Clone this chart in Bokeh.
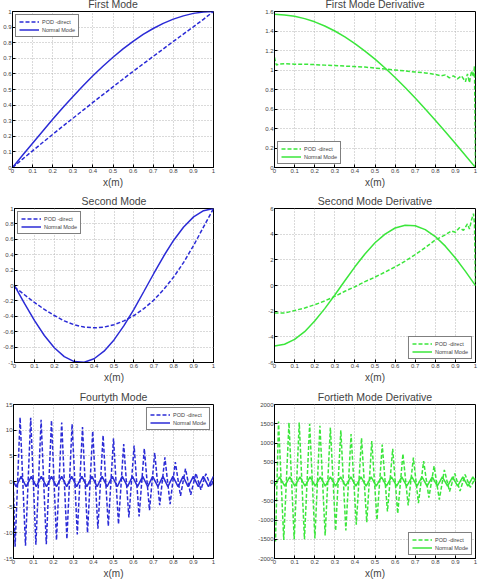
from bokeh.plotting import figure
from bokeh.layouts import column, row
from bokeh.models import Legend, LegendItem, FixedTicker, CustomJSTickFormatter, Range1d
from bokeh.embed import file_html
from bokeh.resources import INLINE

# ---------------- data ----------------
x21 = [0, 0.05, 0.1, 0.15, 0.2, 0.25, 0.3, 0.35, 0.4, 0.45, 0.5,
       0.55, 0.6, 0.65, 0.7, 0.75, 0.8, 0.85, 0.9, 0.95, 1.0]

mode1_pod = [0, 0.054, 0.107, 0.16, 0.212, 0.264, 0.315, 0.366, 0.417, 0.467, 0.517,
             0.567, 0.616, 0.664, 0.712, 0.76, 0.808, 0.855, 0.902, 0.95, 1.0]
mode1_nm = [0, 0.078, 0.156, 0.233, 0.309, 0.383, 0.454, 0.522, 0.588, 0.649, 0.707,
            0.760, 0.809, 0.853, 0.891, 0.924, 0.951, 0.972, 0.988, 0.997, 1.0]

der1_pod_x = [0, 0.005, 0.01, 0.02, 0.05, 0.1, 0.15, 0.2, 0.25, 0.3, 0.35, 0.4, 0.45, 0.5,
              0.55, 0.6, 0.65, 0.7, 0.75, 0.8, 0.83, 0.85, 0.87, 0.89, 0.91, 0.93, 0.95,
              0.96, 0.97, 0.98, 0.99, 0.995, 1.0]
der1_pod_y = [1.13, 1.08, 1.05, 1.06, 1.065, 1.06, 1.06, 1.055, 1.05, 1.045, 1.04, 1.035, 1.03, 1.02,
              1.01, 1.0, 0.99, 0.98, 0.97, 0.955, 0.94, 0.95, 0.92, 0.94, 0.91, 0.94, 0.88,
              0.96, 0.87, 0.99, 0.93, 1.04, 0.0]
der1_nm = [1.571, 1.565, 1.551, 1.527, 1.494, 1.451, 1.4, 1.339, 1.271, 1.194, 1.111,
           1.02, 0.923, 0.82, 0.713, 0.601, 0.485, 0.367, 0.246, 0.123, 0.0]

mode2_pod = [-0.02, -0.12, -0.22, -0.31, -0.39, -0.46, -0.51, -0.54, -0.55, -0.54, -0.51,
             -0.46, -0.39, -0.30, -0.19, -0.05, 0.11, 0.30, 0.52, 0.76, 1.0]
mode2_nm = [0, -0.233, -0.454, -0.649, -0.809, -0.924, -0.988, -0.997, -0.951, -0.853, -0.707,
            -0.522, -0.309, -0.078, 0.156, 0.383, 0.588, 0.760, 0.891, 0.972, 1.0]

der2_pod_x = [0, 0.05, 0.1, 0.15, 0.2, 0.25, 0.3, 0.35, 0.4, 0.45, 0.5, 0.55, 0.6, 0.65,
              0.7, 0.75, 0.8, 0.85, 0.88, 0.9, 0.92, 0.94, 0.96, 0.97, 0.98, 0.99, 0.995, 1.0]
der2_pod_y = [-2.15, -2.15, -1.95, -1.75, -1.5, -1.2, -0.85, -0.45, -0.1, 0.3, 0.65, 1.05, 1.45, 1.9,
              2.4, 2.95, 3.55, 3.95, 4.25, 4.15, 4.5, 4.3, 4.8, 4.4, 5.1, 5.6, 4.8, 0.0]
der2_nm = [-4.712, -4.577, -4.199, -3.599, -2.770, -1.803, -0.737, 0.369, 1.456, 2.461, 3.332,
           4.005, 4.481, 4.698, 4.654, 4.353, 3.812, 3.065, 2.139, 1.100, 0.0]

mode40_pod_x = [0, 0.008, 0.033, 0.06, 0.086, 0.112, 0.138, 0.164, 0.19, 0.215, 0.241, 0.267,
                0.293, 0.319, 0.345, 0.37, 0.396, 0.422, 0.448, 0.474, 0.5, 0.525, 0.551,
                0.577, 0.603, 0.628, 0.654, 0.68, 0.706, 0.731, 0.757, 0.783, 0.809, 0.835,
                0.86, 0.886, 0.912, 0.937, 0.962, 0.988, 1.0]
mode40_pod_y = [-2.0, -12.7, 12.5, -12.5, 12.4, -12.3, 12.0, -12.2, 11.9, -11.4, 11.5, -11.2,
                11.2, -10.3, 10.6, -10.0, 9.8, -9.2, 9.0, -8.7, 8.4, -8.3, 7.3,
                -7.0, 7.0, -6.8, 6.4, -5.6, 5.6, -4.6, 4.7, -4.4, 3.8, -2.8,
                2.5, -2.6, 1.6, -1.6, 1.5, -1.0, 0.5]
mode40_nm_x = [0, 0.013, 0.038, 0.063, 0.089, 0.114, 0.139, 0.165, 0.190, 0.215, 0.241, 0.266,
               0.291, 0.316, 0.342, 0.367, 0.392, 0.418, 0.443, 0.468, 0.494, 0.519, 0.544,
               0.570, 0.595, 0.620, 0.646, 0.671, 0.696, 0.722, 0.747, 0.772, 0.797, 0.823,
               0.848, 0.873, 0.899, 0.924, 0.949, 0.975, 1.0]
mode40_nm_y = [0, -1, 1, -1, 1, -1, 1, -1, 1, -1, 1, -1, 1, -1, 1, -1, 1, -1, 1, -1, 1,
               -1, 1, -1, 1, -1, 1, -1, 1, -1, 1, -1, 1, -1, 1, -1, 1, -1, 1, -1, 1]

der40_pod_x = [0, 0.005, 0.02, 0.046, 0.072, 0.098, 0.123, 0.149, 0.175, 0.201, 0.226, 0.252,
               0.278, 0.304, 0.33, 0.355, 0.381, 0.407, 0.433, 0.459, 0.484, 0.51, 0.536,
               0.562, 0.588, 0.613, 0.639, 0.665, 0.691, 0.716, 0.742, 0.768, 0.794, 0.82,
               0.845, 0.871, 0.897, 0.923, 0.948, 0.974, 1.0]
der40_pod_y = [-1200, -1560, 1560, -1520, 1530, -1500, 1530, -1500, 1500, -1480, 1450, -1400,
               1400, -1280, 1330, -1270, 1230, -1120, 1130, -1060, 1050, -1000, 960,
               -780, 850, -830, 720, -620, 620, -560, 530, -420, 400, -470,
               300, -260, 210, -250, 180, -150, 80]
der40_nm_x = [0, 0.025, 0.051, 0.076, 0.101, 0.127, 0.152, 0.177, 0.203, 0.228, 0.253, 0.278,
              0.304, 0.329, 0.354, 0.380, 0.405, 0.430, 0.456, 0.481, 0.506, 0.532, 0.557,
              0.582, 0.608, 0.633, 0.658, 0.684, 0.709, 0.734, 0.759, 0.785, 0.810, 0.835,
              0.861, 0.886, 0.911, 0.937, 0.962, 0.987, 1.0]
der40_nm_y = [-120, 120, -120, 120, -120, 120, -120, 120, -120, 120, -120, 120, -120, 120,
              -120, 120, -120, 120, -120, 120, -120, 120, -120, 120, -120, 120, -120, 120,
              -120, 120, -120, 120, -120, 120, -120, 120, -120, 120, -120, 120, 0]

x_ticks = [0, 0.1, 0.2, 0.3, 0.4, 0.5, 0.6, 0.7, 0.8, 0.9, 1.0]
y_ticks_1 = [0, 0.1, 0.2, 0.3, 0.4, 0.5, 0.6, 0.7, 0.8, 0.9, 1.0]
y_ticks_2 = [0, 0.2, 0.4, 0.6, 0.8, 1.0, 1.2, 1.4, 1.6]
y_ticks_3 = [-1, -0.8, -0.6, -0.4, -0.2, 0, 0.2, 0.4, 0.6, 0.8, 1]
y_ticks_4 = [-6, -4, -2, 0, 2, 4, 6]
y_ticks_5 = [-15, -10, -5, 0, 5, 10, 15]
y_ticks_6 = [-2000, -1500, -1000, -500, 0, 500, 1000, 1500, 2000]

titles = ["First Mode", "First Mode Derivative", "Second Mode", "Second Mode Derivative",
          "Fourtyth Mode", "Fortieth Mode Derivative"]
legend_labels = ["POD -direct", "Normal Mode"]

BLUE = "#2b2bd6"
GREEN = "#3be63b"
FONT = "Liberation Sans"


def make(title, px, py, nx, ny, yticks, color, loc, h, top, bottom, left, right):
    p = figure(width=239, height=h, output_backend="svg", toolbar_location=None,
               x_range=Range1d(0, 1), y_range=Range1d(yticks[0], yticks[-1]),
               min_border_left=left, min_border_right=right,
               min_border_top=top, min_border_bottom=bottom)
    p.title.text = title
    p.title.align = "center"
    p.title.text_font = FONT
    p.title.text_font_size = "10.5px"
    p.title.text_font_style = "normal"
    p.title.standoff = 3
    p.outline_line_color = "black"
    p.outline_line_width = 1
    fmt = CustomJSTickFormatter(code="return String(Math.round(tick*10)/10);")
    p.xaxis.ticker = FixedTicker(ticks=x_ticks)
    p.yaxis.ticker = FixedTicker(ticks=yticks)
    for ax in (p.xaxis[0], p.yaxis[0]):
        ax.formatter = fmt
        ax.major_label_text_font = FONT
        ax.major_label_text_font_size = "6px"
        ax.major_label_standoff = 1
        ax.major_tick_in = 3
        ax.major_tick_out = 0
        ax.minor_tick_in = 0
        ax.minor_tick_out = 0
        ax.axis_line_color = "black"
        ax.major_tick_line_color = "black"
    p.xaxis.axis_label = "x(m)"
    p.xaxis.axis_label_text_font = FONT
    p.xaxis.axis_label_text_font_size = "10px"
    p.xaxis.axis_label_text_font_style = "normal"
    p.xaxis.axis_label_standoff = 1
    for g in (p.xgrid[0], p.ygrid[0]):
        g.grid_line_color = "#b4b4b4"
        g.grid_line_dash = "1 2"
        g.grid_line_width = 1
    r1 = p.line(px, py, line_color=color, line_width=1.5, line_dash="4 2")
    r2 = p.line(nx, ny, line_color=color, line_width=1.5)
    leg = Legend(items=[LegendItem(label=legend_labels[0], renderers=[r1]),
                        LegendItem(label=legend_labels[1], renderers=[r2])],
                 location=loc)
    leg.label_text_font = FONT
    leg.label_text_font_size = "5.5px"
    leg.label_height = 7
    leg.glyph_height = 7
    leg.glyph_width = 20
    leg.label_standoff = 3
    leg.padding = 3
    leg.spacing = 1
    leg.margin = 3
    leg.border_line_color = "black"
    leg.border_line_width = 0.7
    leg.background_fill_color = "white"
    leg.background_fill_alpha = 1
    p.add_layout(leg)
    return p


p11 = make(titles[0], x21, mode1_pod, x21, mode1_nm, y_ticks_1, BLUE, "top_left", 197, 18, 21, 12, 26)
p12 = make(titles[1], der1_pod_x, der1_pod_y, x21, der1_nm, y_ticks_2, GREEN, "bottom_left", 197, 18, 21, 35, 3)
p21 = make(titles[2], x21, mode2_pod, x21, mode2_nm, y_ticks_3, BLUE, "top_left", 195, 18, 20, 12, 26)
p22 = make(titles[3], der2_pod_x, der2_pod_y, x21, der2_nm, y_ticks_4, GREEN, "bottom_right", 195, 18, 20, 35, 3)
p31 = make(titles[4], mode40_pod_x, mode40_pod_y, mode40_nm_x, mode40_nm_y, y_ticks_5, BLUE, "top_right", 196, 19, 20, 12, 26)
p32 = make(titles[5], der40_pod_x, der40_pod_y, der40_nm_x, der40_nm_y, y_ticks_6, GREEN, "bottom_right", 196, 19, 20, 35, 3)

layout = column(row(p11, p12), row(p21, p22), row(p31, p32), styles={"margin-top": "-7px"})

open("out.html", "w").write(file_html(layout, INLINE))
